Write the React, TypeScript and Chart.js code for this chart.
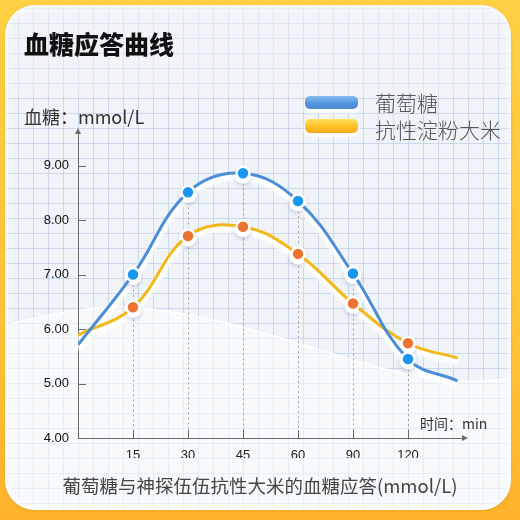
import React, { useEffect, useRef } from 'react';
import { Chart, registerables } from 'chart.js';

Chart.register(...registerables);

const timeLabels = ['15', '30', '45', '60', '90', '120'];
const xPositions = [0, 1, 2, 3, 4, 5, 6, 6.9];
const glucoseValues = [5.71, 7.0, 8.51, 8.86, 8.35, 7.02, 5.45, 5.05];
const riceValues = [5.89, 6.4, 7.71, 7.88, 7.38, 6.47, 5.74, 5.47];
const seriesNames = ['葡萄糖', '抗性淀粉大米'];
const yMin = 4;
const yMax = 9.6;

const CJK = '"Noto Sans CJK SC", "Noto Sans", sans-serif';

const markerRadius = xPositions.map((_, i) => (i === 0 || i === xPositions.length - 1 ? 0 : 6.5));

const decorPlugin = {
  id: 'decor',
  beforeDatasetsDraw(chart: any) {
    const { ctx, chartArea, scales } = chart;
    const x = scales.x;
    const y = scales.y;
    ctx.save();
    ctx.strokeStyle = '#a0a0a0';
    ctx.lineWidth = 1;
    ctx.setLineDash([2, 3]);
    for (let i = 1; i <= timeLabels.length; i++) {
      const px = Math.round(x.getPixelForValue(xPositions[i])) + 0.5;
      const py = y.getPixelForValue(glucoseValues[i]);
      ctx.beginPath();
      ctx.moveTo(px, py);
      ctx.lineTo(px, chartArea.bottom);
      ctx.stroke();
    }
    ctx.setLineDash([]);
    ctx.strokeStyle = '#6a6a6a';
    x.ticks.forEach((t: any) => {
      const px = Math.round(x.getPixelForValue(t.value)) + 0.5;
      ctx.beginPath();
      ctx.moveTo(px, chartArea.bottom);
      ctx.lineTo(px, chartArea.bottom - 8);
      ctx.stroke();
    });
    y.ticks.forEach((t: any) => {
      const py = Math.round(y.getPixelForValue(t.value)) + 0.5;
      ctx.beginPath();
      ctx.moveTo(chartArea.left, py);
      ctx.lineTo(chartArea.left + 8, py);
      ctx.stroke();
    });
    ctx.fillStyle = '#6a6a6a';
    ctx.beginPath();
    ctx.moveTo(chartArea.right + 5, chartArea.bottom);
    ctx.lineTo(chartArea.right - 1, chartArea.bottom - 3);
    ctx.lineTo(chartArea.right - 1, chartArea.bottom + 3);
    ctx.closePath();
    ctx.fill();
    ctx.beginPath();
    ctx.moveTo(chartArea.left, chartArea.top - 5);
    ctx.lineTo(chartArea.left - 3, chartArea.top + 1);
    ctx.lineTo(chartArea.left + 3, chartArea.top + 1);
    ctx.closePath();
    ctx.fill();
    ctx.restore();

    // white glow below each line
    chart.data.datasets.forEach((_: any, di: number) => {
      const meta = chart.getDatasetMeta(di);
      const el = meta.dataset;
      if (!el) return;
      const saved = el.options;
      ctx.save();
      ctx.translate(0, 4);
      ctx.filter = 'blur(1.5px)';
      el.options = Object.assign({}, saved, { borderColor: 'rgba(255,255,255,1)', borderWidth: 7 });
      el._path = undefined;
      el.draw(ctx, chartArea);
      el.options = saved;
      el._path = undefined;
      ctx.restore();
    });
    // halo below markers
    chart.data.datasets.forEach((_: any, di: number) => {
      const meta = chart.getDatasetMeta(di);
      meta.data.forEach((pt: any, i: number) => {
        if (!markerRadius[i]) return;
        ctx.save();
        ctx.shadowColor = 'rgba(120,140,170,0.35)';
        ctx.shadowBlur = 4;
        ctx.shadowOffsetY = 2;
        ctx.fillStyle = '#ffffff';
        ctx.beginPath();
        ctx.arc(pt.x, pt.y + 2, 8.5, 0, Math.PI * 2);
        ctx.fill();
        ctx.restore();
      });
    });
  },
};

function ChartCanvas() {
  const ref = useRef<HTMLCanvasElement | null>(null);
  useEffect(() => {
    if (!ref.current) return;
    const chart = new Chart(ref.current, {
      type: 'line',
      data: {
        datasets: [
          {
            label: seriesNames[0],
            data: xPositions.map((xv, i) => ({ x: xv, y: glucoseValues[i] })),
            borderColor: '#4a8ed9',
            borderWidth: 3,
            tension: 0.4,
            pointRadius: markerRadius,
            pointHoverRadius: markerRadius,
            pointBackgroundColor: '#1897f2',
            pointBorderColor: '#ffffff',
            pointBorderWidth: 2.5,
          },
          {
            label: seriesNames[1],
            data: xPositions.map((xv, i) => ({ x: xv, y: riceValues[i] })),
            borderColor: '#f2b817',
            borderWidth: 3,
            tension: 0.4,
            pointRadius: markerRadius,
            pointHoverRadius: markerRadius,
            pointBackgroundColor: '#eb7433',
            pointBorderColor: '#ffffff',
            pointBorderWidth: 2.5,
          },
        ],
      },
      options: {
        responsive: false,
        animation: false,
        events: [],
        layout: { padding: { left: 0, top: 133, right: 57, bottom: 62 } },
        plugins: { legend: { display: false }, tooltip: { enabled: false }, title: { display: false } },
        scales: {
          x: {
            type: 'linear',
            min: 0,
            max: 7,
            afterFit: (s: any) => {
              s.height = 20;
            },
            afterBuildTicks: (s: any) => {
              s.ticks = timeLabels.map((_, i) => ({ value: xPositions[i + 1] }));
            },
            grid: { display: false },
            border: { display: true, color: '#6a6a6a', width: 1 },
            ticks: {
              padding: 2,
              color: '#222',
              font: { family: '"Liberation Sans", Arial, sans-serif', size: 13 },
              callback: (v: any) => {
                const i = xPositions.indexOf(Number(v));
                return i >= 1 && i <= timeLabels.length ? timeLabels[i - 1] : '';
              },
            },
          },
          y: {
            type: 'linear',
            min: yMin,
            max: yMax,
            afterFit: (s: any) => {
              s.width = 78;
            },
            afterBuildTicks: (s: any) => {
              s.ticks = s.ticks.filter((t: any) => Number.isInteger(Math.round(t.value * 1000) / 1000));
            },
            grid: { display: false },
            border: { display: true, color: '#6a6a6a', width: 1 },
            ticks: {
              stepSize: 1,
              padding: 1,
              color: '#111',
              font: { family: '"Liberation Sans", Arial, sans-serif', size: 13 },
              callback: (v: any) => Number(v).toFixed(2),
            },
          },
        },
      },
      plugins: [decorPlugin],
    } as any);
    return () => chart.destroy();
  }, []);
  return <canvas ref={ref} width={520} height={520} style={{ position: 'absolute', left: 0, top: 0, width: 520, height: 520 }} />;
}

export default function App() {
  const gridBg =
    'linear-gradient(to right, rgba(190,208,232,0.75) 1.5px, transparent 1.5px), linear-gradient(to bottom, rgba(190,208,232,0.75) 1.5px, transparent 1.5px)';
  return (
    <div
      style={{
        position: 'fixed',
        left: 0,
        top: 0,
        width: 520,
        height: 520,
        overflow: 'hidden',
        background: 'linear-gradient(180deg, #ffd043 0%, #ffc43a 60%, #ffb42c 100%)',
        fontFamily: CJK,
      }}
    >
      <div
        style={{
          position: 'absolute',
          left: 5,
          top: 5,
          width: 506,
          height: 505,
          borderRadius: 30,
          backgroundColor: '#f0f3f7',
          backgroundImage: gridBg,
          backgroundSize: '15px 15px',
          backgroundPosition: '-2px 3px',
          boxShadow: 'inset 0 0 6px 2px rgba(255,255,255,0.95), 0 1px 3px rgba(200,140,20,0.4)',
          overflow: 'hidden',
        }}
      >
        <svg width={506} height={505} style={{ position: 'absolute', left: 0, top: 0 }}>
          <path
            d="M-5,322 C50,306 100,300 135,303 C215,310 295,340 375,363 C425,375 465,380 510,373 L510,510 L-5,510 Z"
            fill="rgba(255,255,255,0.5)"
            stroke="#ffffff"
            strokeWidth={1.5}
          />
          <rect x={0} y={0} width={506} height={90} fill="rgba(245,247,250,0.45)" />
        </svg>
      </div>
      <ChartCanvas />
      <div
        style={{
          position: 'absolute',
          left: 24,
          top: 30,
          fontSize: 25,
          lineHeight: '26px',
          fontWeight: 900,
          color: '#111',
          whiteSpace: 'nowrap',
        }}
      >
        血糖应答曲线
      </div>
      <div
        style={{
          position: 'absolute',
          left: 24,
          top: 106,
          fontSize: 18,
          lineHeight: '20px',
          color: '#333',
          whiteSpace: 'nowrap',
        }}
      >
        血糖：mmol/L
      </div>
      <div
        style={{
          position: 'absolute',
          left: 305,
          top: 96,
          width: 53,
          height: 13,
          borderRadius: 5,
          background: 'linear-gradient(180deg, #86bdf2 0%, #5596de 55%, #4a86d0 100%)',
          boxShadow: '0 3px 3px 1px rgba(255,255,255,1)',
        }}
      />
      <div
        style={{
          position: 'absolute',
          left: 305,
          top: 119,
          width: 53,
          height: 14,
          borderRadius: 5,
          background: 'linear-gradient(180deg, #ffe05a 0%, #fdc226 55%, #f5a81a 100%)',
          boxShadow: '0 3px 3px 1px rgba(255,255,255,1)',
        }}
      />
      <div
        style={{
          position: 'absolute',
          left: 375,
          top: 90,
          fontSize: 21,
          lineHeight: '24px',
          color: '#555',
          fontWeight: 300,
          whiteSpace: 'nowrap',
        }}
      >
        {seriesNames[0]}
      </div>
      <div
        style={{
          position: 'absolute',
          left: 375,
          top: 117,
          fontSize: 21,
          lineHeight: '24px',
          color: '#555',
          fontWeight: 300,
          whiteSpace: 'nowrap',
        }}
      >
        {seriesNames[1]}
      </div>
      <div
        style={{
          position: 'absolute',
          left: 420,
          top: 414,
          fontSize: 14,
          lineHeight: '18px',
          color: '#333',
          whiteSpace: 'nowrap',
        }}
      >
        时间：min
      </div>
      <div
        style={{
          position: 'absolute',
          left: 0,
          width: 520,
          top: 474,
          textAlign: 'center',
          fontSize: 18.5,
          lineHeight: '22px',
          color: '#444',
          whiteSpace: 'nowrap',
        }}
      >
        葡萄糖与神探伍伍抗性大米的血糖应答(mmol/L)
      </div>
    </div>
  );
}
